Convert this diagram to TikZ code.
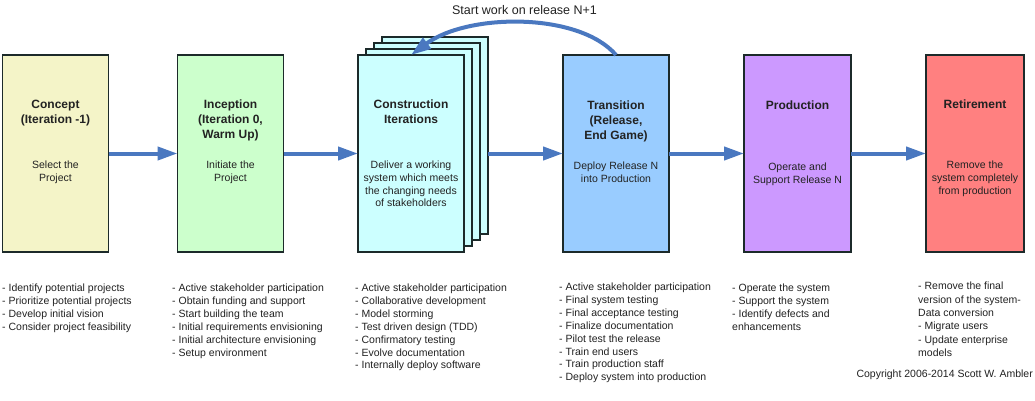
\documentclass[tikz,border=0pt]{standalone}
\usepackage{fontspec}
\setmainfont{Liberation Sans}
\usetikzlibrary{arrows.meta}
\definecolor{cConcept}{HTML}{F4F4C8}
\definecolor{cInception}{HTML}{CCFFCC}
\definecolor{cConstruction}{HTML}{CCFFFF}
\definecolor{cTransition}{HTML}{99CCFF}
\definecolor{cProduction}{HTML}{CC99FF}
\definecolor{cRetirement}{HTML}{FF8080}
\definecolor{arrowblue}{HTML}{4A78C0}
\definecolor{boxline}{HTML}{1C2A2A}
\definecolor{txt}{HTML}{222222}
\begin{document}
\begin{tikzpicture}[x=1pt,y=-1pt,
  phase/.style={draw=boxline, line width=1.3pt, minimum width=106pt, minimum height=197pt, inner sep=0pt, outer sep=0pt},
  title/.style={font=\fontsize{12}{15}\selectfont\bfseries, text=txt, align=center, anchor=north, inner sep=0pt},
  body/.style={font=\fontsize{10.5}{12.6}\selectfont, text=txt, align=center, anchor=north, inner sep=0pt},
  list/.style={font=\fontsize{10.5}{12.85}\selectfont, text=txt, align=left, anchor=north west, inner sep=0pt},
  flow/.style={draw=arrowblue, line width=4pt, -{Triangle[length=20pt,width=13pt]}}
]
\useasboundingbox[fill=white] (0,0) rectangle (1035,401);

% boxes
\node[phase, fill=cConcept] (concept) at (55.5,153.5) {};
\node[phase, fill=cInception] (inception) at (230.5,153.5) {};
\node[phase, fill=cConstruction] (c4) at (435,135.5) {};
\node[phase, fill=cConstruction] (c3) at (427,141.5) {};
\node[phase, fill=cConstruction] (c2) at (419,147.5) {};
\node[phase, fill=cConstruction] (c1) at (411,153.5) {};
\node[phase, fill=cTransition] (transition) at (616,153.5) {};
\node[phase, fill=cProduction, minimum width=107pt] (production) at (797.5,153.5) {};
\node[phase, fill=cRetirement, minimum width=98pt] (retirement) at (975,153.5) {};

% titles
\node[title] (concept-t) at (55.5,99.5) {Concept\\(Iteration -1)};
\node[title] (inception-t) at (230.5,99.5) {Inception\\(Iteration 0,\\Warm Up)};
\node[title] (construction-t) at (411,99.5) {Construction\\Iterations};
\node[title] (transition-t) at (616,100.5) {Transition\\(Release,\\End Game)};
\node[title] (production-t) at (797.5,100.5) {Production};
\node[title] (retirement-t) at (975,99.5) {Retirement};

% bodies
\node[body] (concept-b) at (55.5,161) {Select the\\Project};
\node[body] (inception-b) at (230.5,161) {Initiate the\\Project};
\node[body] (construction-b) at (411,161) {Deliver a working\\system which meets\\the changing needs\\of stakeholders};
\node[body] (transition-b) at (616,162) {Deploy Release N\\into Production};
\node[body] (production-b) at (797.5,163) {Operate and\\Support Release N};
\node[body] (retirement-b) at (975,161) {Remove the\\system completely\\from production};

% flow arrows
\draw[flow] (concept.east) -- (inception.west);
\draw[flow] (inception.east) -- (c1.west);
\draw[flow] (c4.east |- c1.east) -- (transition.west);
\draw[flow] (transition.east) -- (production.west);
\draw[flow] (production.east) -- (retirement.west);
\draw[flow] (transition.north) .. controls +(-37,-43) and +(57,-42) .. (c1.north);
\node[font=\fontsize{12.5}{15}\selectfont, text=txt, inner sep=0pt] (loop-label) at (524.5,10) {Start work on release N+1};

% activity lists
\node[list] (concept-l) at (2,284) {- Identify potential projects\\- Prioritize potential projects\\- Develop initial vision\\- Consider project feasibility};
\node[list] (inception-l) at (172,284) {- Active stakeholder participation\\- Obtain funding and support\\- Start building the team\\- Initial requirements envisioning\\- Initial architecture envisioning\\- Setup environment};
\node[list] (construction-l) at (355,284) {- Active stakeholder participation\\- Collaborative development\\- Model storming\\- Test driven design (TDD)\\- Confirmatory testing\\- Evolve documentation\\- Internally deploy software};
\node[list] (transition-l) at (559,283) {- Active stakeholder participation\\- Final system testing\\- Final acceptance testing\\- Finalize documentation\\- Pilot test the release\\- Train end users\\- Train production staff\\- Deploy system into production};
\node[list] (production-l) at (732,284) {- Operate the system\\- Support the system\\- Identify defects and\\enhancements};
\node[list, font=\fontsize{10.5}{13.3}\selectfont] (retirement-l) at (918,282) {- Remove the final\\version of the system-\\Data conversion\\- Migrate users\\- Update enterprise\\models};

\node[font=\fontsize{10.5}{12.6}\selectfont, text=txt, anchor=east, inner sep=0pt] (copyright) at (1033,375) {Copyright 2006-2014 Scott W. Ambler};
\end{tikzpicture}
\end{document}
